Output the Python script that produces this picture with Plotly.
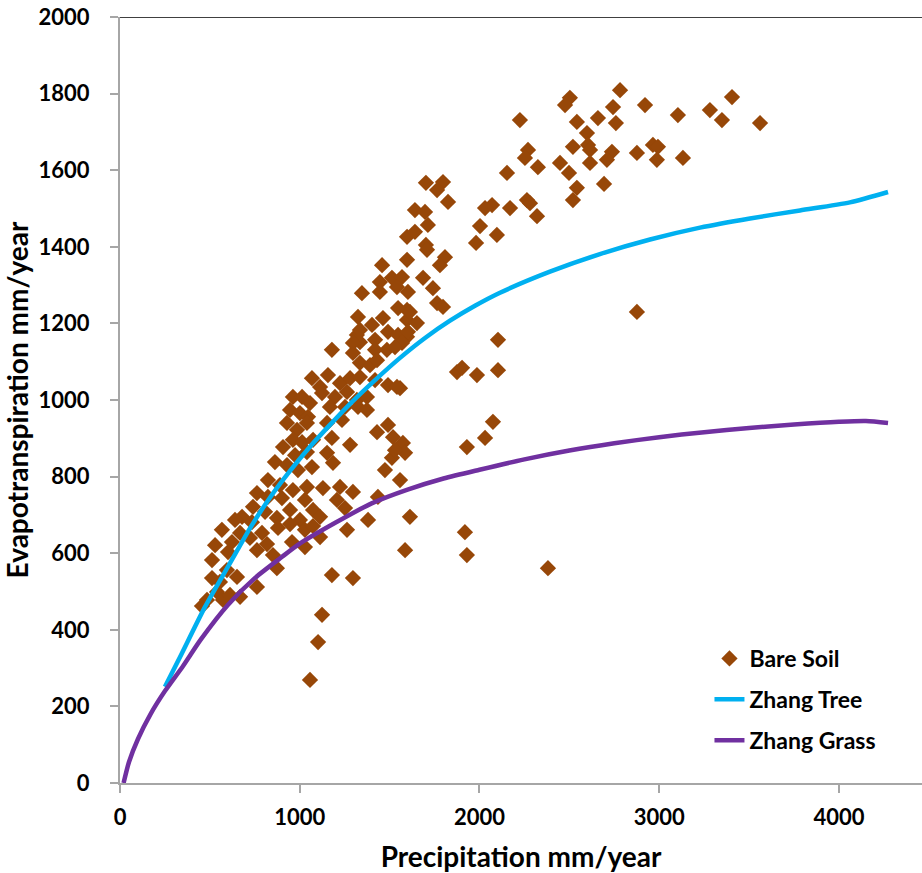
import plotly.graph_objects as go

# Bare soil observations: annual precipitation (mm/year) and evapotranspiration (mm/year)
soil_precip = [
    2782, 2503, 2476, 2921, 2743, 3104, 3282, 3405, 3349, 3561,
    2225, 2542, 2659, 2759, 2598, 2520, 2604, 2615, 2737, 2709,
    2876, 2965, 2993, 2987, 3132, 2270, 2253, 2325, 2448, 2498,
    2615, 2153, 2693, 2542, 2520, 2264, 2281, 2170, 2070, 2031,
    2320, 2097, 2003, 1981, 2876, 2381, 2103, 1875, 1903, 1986,
    2103, 2075, 2031, 1930, 1919, 1930, 1597, 1764, 1797, 1597,
    1652, 1597, 1574, 1586, 1558, 1613, 1586, 1558, 1702, 1797,
    1764, 1825, 1641, 1697, 1713, 1597, 1641, 1702, 1808, 1780,
    1458, 1597, 1346, 1446, 1513, 1569, 1541, 1446, 1602, 1686,
    1741, 1547, 1613, 1324, 1402, 1463, 1708, 1491, 1547, 1602,
    1569, 1419, 1318, 1335, 1179, 1296, 1335, 1391, 1419, 1485,
    1530, 1430, 1068, 1157, 1113, 1224, 1280, 1335, 1419, 1491,
    1541, 962, 1013, 1057, 1124, 1196, 1263, 1318, 1374, 946,
    1001, 1046, 1168, 1252, 1324, 1374, 929, 985, 1040, 1152,
    1235, 962, 907, 1013, 1074, 1179, 1430, 1519, 1296, 1335,
    974, 1040, 1152, 1280, 862, 929, 990, 1068, 1185, 823,
    890, 962, 1040, 1129, 1224, 1296, 762, 823, 901, 1029,
    740, 807, 946, 1074, 1207, 1252, 679, 734, 873, 1001,
    1113, 668, 623, 723, 790, 818, 762, 601, 879, 946,
    1029, 1074, 957, 1029, 1113, 1263, 851, 873, 762, 651,
    595, 556, 512, 540, 484, 456, 573, 612, 668, 1179,
    1296, 1124, 1102, 1057, 1474, 1513, 1380, 1435, 1530, 1491,
    529, 567, 512, 640,
]
soil_et = [
    1809, 1789, 1770, 1770, 1765, 1744, 1757, 1791, 1731, 1723,
    1731, 1726, 1736, 1723, 1697, 1661, 1666, 1653, 1648, 1627,
    1645, 1666, 1661, 1627, 1632, 1653, 1632, 1608, 1619, 1593,
    1619, 1593, 1564, 1554, 1522, 1522, 1514, 1501, 1509, 1501,
    1480, 1431, 1454, 1410, 1230, 561, 1157, 1073, 1084, 1065,
    1078, 943, 901, 877, 655, 595, 1235, 1253, 1243, 1209,
    1201, 1165, 888, 862, 791, 695, 608, 1031, 1567, 1569,
    1548, 1517, 1496, 1491, 1457, 1426, 1439, 1405, 1373, 1352,
    1352, 1366, 1279, 1308, 1319, 1321, 1295, 1282, 1282, 1319,
    1292, 1240, 1230, 1217, 1196, 1214, 1392, 1178, 1170, 1178,
    1149, 1157, 1170, 1151, 1131, 1123, 1097, 1091, 1131, 1131,
    1138, 1104, 1057, 1065, 1034, 1044, 1057, 1060, 1052, 1039,
    1034, 1008, 1008, 992, 1018, 1008, 1021, 1000, 1008, 974,
    966, 956, 982, 982, 982, 974, 940, 922, 940, 940,
    948, 896, 877, 890, 896, 901, 916, 903, 1149, 1183,
    856, 864, 862, 883, 838, 830, 817, 825, 836, 791,
    778, 765, 773, 770, 773, 760, 757, 747, 744, 739,
    721, 708, 713, 713, 739, 718, 695, 681, 692, 687,
    695, 653, 629, 640, 653, 624, 608, 603, 666, 676,
    661, 671, 629, 616, 642, 661, 595, 561, 512, 538,
    556, 525, 535, 499, 478, 462, 478, 491, 486, 543,
    535, 439, 368, 269, 817, 849, 687, 747, 869, 935,
    621, 661, 582, 687,
]

# Zhang curve for trees
tree_precip = [250, 334, 473, 612, 723, 834, 946, 1057, 1168, 1280, 1419, 1558,
               1697, 1836, 1975, 2114, 2392, 2670, 2949, 3227, 3505, 3783, 4061, 4273]
tree_et = [251, 329, 460, 574, 665, 745, 815, 878, 935, 990, 1052, 1110,
           1162, 1207, 1246, 1280, 1335, 1381, 1419, 1450, 1474, 1495, 1516, 1543]

# Zhang curve for grass
grass_precip = [20, 50, 100, 170, 250, 350, 450, 600, 750, 900, 1000, 1200, 1400,
                1600, 1800, 2000, 2250, 2500, 2750, 3000, 3250, 3500, 3750, 4000, 4150, 4273]
grass_et = [0, 55, 115, 180, 240, 305, 375, 465, 535, 590, 625, 680, 730,
            766, 795, 818, 845, 868, 887, 903, 916, 927, 936, 943, 945, 940]

x_ticks = [0, 1000, 2000, 3000, 4000]
y_ticks = [0, 200, 400, 600, 800, 1000, 1200, 1400, 1600, 1800, 2000]

FONT = "Lato"
AXIS_GREY = "#A6A6A6"

fig = go.Figure()
fig.add_trace(go.Scatter(
    x=soil_precip, y=soil_et, mode="markers", name="Bare Soil", legendgroup="a",
    marker=dict(symbol="diamond", size=12.5, color="#974708", line=dict(width=0)),
))
fig.add_trace(go.Scatter(
    x=tree_precip, y=tree_et, mode="lines", name="Zhang Tree", legendgroup="b",
    line=dict(color="#00B0F0", width=4.5, shape="spline", smoothing=0.7),
))
fig.add_trace(go.Scatter(
    x=grass_precip, y=grass_et, mode="lines", name="Zhang Grass", legendgroup="c",
    line=dict(color="#7030A0", width=4.5, shape="spline", smoothing=0.7),
))

tick_font = dict(family=FONT, size=22, color="black", weight="bold")
title_font = dict(family=FONT, size=28, color="black", weight="bold")

fig.update_layout(
    width=922, height=873,
    margin=dict(l=120, r=0, t=17, b=90),
    paper_bgcolor="white", plot_bgcolor="white",
    showlegend=True,
    legend=dict(
        x=0.735, y=0.109, xanchor="left", yanchor="middle",
        font=dict(family=FONT, size=23, color="black", weight="bold"),
        bgcolor="rgba(0,0,0,0)", tracegroupgap=8, traceorder="grouped",
    ),
    xaxis=dict(
        range=[0, 4462], tickvals=x_ticks, ticktext=[str(v) for v in x_ticks],
        showgrid=False, zeroline=False, showline=True, linecolor=AXIS_GREY, linewidth=2,
        ticks="outside", ticklen=8, tickwidth=2, tickcolor=AXIS_GREY,
        tickfont=tick_font, ticklabelstandoff=6,
        title=dict(text="Precipitation mm/year", font=title_font, standoff=18),
        automargin=False,
    ),
    yaxis=dict(
        range=[0, 2000], tickvals=y_ticks, ticktext=[str(v) for v in y_ticks],
        showgrid=False, zeroline=False, showline=True, linecolor=AXIS_GREY, linewidth=2,
        ticks="outside", ticklen=8, tickwidth=2, tickcolor=AXIS_GREY,
        tickfont=tick_font, ticklabelstandoff=16,
        title=dict(text="Evapotranspiration mm/year", font=title_font, standoff=6),
        automargin=False,
    ),
    shapes=[dict(type="line", xref="paper", yref="y", x0=0, x1=1, y0=2000, y1=2000,
                 line=dict(color="#404040", width=2))],
)

fig.write_html("out.html")
